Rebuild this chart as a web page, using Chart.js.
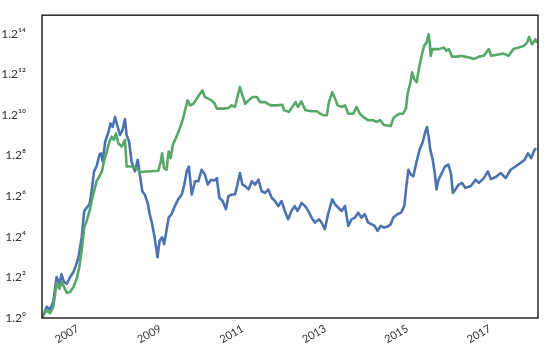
<!DOCTYPE html>
<html>
<head>
<meta charset="utf-8">
<script src="https://cdn.jsdelivr.net/npm/chart.js@4/dist/chart.umd.min.js"></script>
<style>
html,body{margin:0;padding:0;background:#fff;}
#wrap{width:559px;height:358px;}
</style>
</head>
<body>
<div id="wrap"><canvas id="c" width="559" height="358"></canvas></div>
<script>
// Tick labels
const yTickExponents = [0, 2, 4, 6, 8, 10, 12, 14];
const xTickYears = [2007, 2009, 2011, 2013, 2015, 2017];

// Blue series: dates (decimal years) and growth as exponent of 1.2
const blueYears = [2006.13,2006.24,2006.32,2006.40,2006.48,2006.55,2006.60,2006.66,2006.73,2006.81,2006.89,2006.95,2007.01,2007.09,2007.15,2007.21,2007.28,2007.33,2007.39,2007.45,2007.52,2007.56,2007.60,2007.66,2007.74,2007.79,2007.84,2007.90,2007.95,2008.02,2008.08,2008.14,
2008.18,2008.24,2008.30,2008.38,2008.45,2008.50,2008.56,2008.62,2008.69,2008.74,2008.80,2008.86,2008.93,2008.98,2009.04,2009.09,2009.14,2009.20,2009.27,2009.35,2009.43,2009.52,2009.58,2009.64,2009.69,2009.76,2009.84,2009.92,2010.00,2010.08,2010.15,2010.23,
2010.31,2010.37,2010.43,2010.51,2010.59,2010.65,2010.73,2010.81,2010.87,2010.93,2010.99,2011.06,2011.14,2011.22,2011.30,2011.38,2011.46,2011.54,2011.62,2011.70,2011.78,2011.86,2011.94,2012.02,2012.10,2012.18,2012.26,
2012.33,2012.43,2012.51,2012.59,2012.67,2012.75,2012.85,2012.91,2012.99,2013.07,2013.17,2013.24,2013.32,2013.40,2013.48,2013.56,2013.64,2013.72,2013.80,2013.88,2013.96,2014.04,2014.12,2014.20,2014.27,2014.35,2014.43,
2014.51,2014.59,2014.65,2014.75,2014.84,2014.92,2014.97,2015.02,2015.08,2015.14,2015.21,2015.29,2015.37,2015.43,2015.47,2015.51,2015.55,2015.61,2015.66,2015.70,2015.75,2015.83,2015.91,2015.99,2016.05,2016.10,2016.16,2016.24,2016.32,
2016.40,2016.53,2016.65,2016.73,2016.85,2016.95,2017.02,2017.14,2017.26,2017.38,2017.50,2017.62,2017.74,2017.84,2017.92,2018.00,2018.08,2018.12];
const blueExp = [0.00,0.55,0.42,0.80,2.02,1.69,2.15,1.77,1.69,2.02,2.26,2.59,2.99,3.97,5.27,5.43,5.59,6.24,7.22,7.46,8.03,8.11,7.71,8.68,9.17,9.58,9.41,9.90,9.50,9.01,9.25,9.80,
9.01,8.68,7.71,7.22,7.79,7.06,6.24,6.08,5.67,5.11,4.62,3.97,2.99,3.80,3.97,3.64,4.21,4.94,5.11,5.51,5.84,6.08,6.57,7.22,7.46,6.08,6.73,6.73,7.30,7.06,6.57,6.81,
6.77,6.89,5.92,5.76,5.35,6.00,6.08,6.08,6.57,7.14,6.57,6.49,6.33,6.73,6.57,6.81,6.24,6.16,6.33,5.92,5.76,5.51,5.76,5.27,4.86,5.27,5.51,
5.27,5.67,5.51,5.27,4.94,4.70,4.86,4.70,4.37,5.11,5.84,5.59,5.43,5.27,5.51,4.54,4.86,4.94,5.19,4.94,5.11,4.70,4.62,4.54,4.29,4.54,4.45,
4.50,4.62,4.94,5.11,5.19,5.51,6.49,7.30,7.06,6.98,7.63,8.28,8.68,9.17,9.41,8.93,8.28,7.79,7.14,6.33,6.81,7.14,7.46,7.55,7.14,6.16,6.33,6.57,6.65,
6.41,6.49,6.81,6.65,6.89,7.22,6.84,6.94,7.14,6.89,7.30,7.46,7.63,7.79,8.11,7.87,8.28,8.36];

// Green series
const greenYears = [2006.13,2006.16,2006.24,2006.32,2006.40,2006.48,2006.55,2006.60,2006.66,2006.73,2006.81,2006.89,2006.97,2007.03,2007.09,2007.15,2007.21,2007.28,2007.33,2007.39,2007.45,2007.52,2007.58,2007.63,2007.70,2007.76,2007.82,2007.87,2007.92,2007.98,2008.06,2008.14,
2008.18,2008.30,2008.42,2008.50,2008.95,2009.01,2009.04,2009.09,2009.15,2009.20,2009.25,2009.30,2009.39,2009.47,2009.55,2009.61,2009.66,2009.72,2009.80,2009.88,2009.96,2010.02,2010.08,2010.16,2010.24,2010.32,
2010.37,2010.53,2010.65,2010.73,2010.81,2010.87,2010.93,2010.99,2011.06,2011.14,2011.24,2011.34,2011.42,2011.54,2011.67,2011.83,2011.96,2012.00,2012.12,2012.20,2012.28,
2012.34,2012.42,2012.52,2012.68,2012.80,2012.88,2012.96,2013.04,2013.09,2013.17,2013.24,2013.30,2013.40,2013.48,2013.56,2013.68,2013.76,2013.84,2013.92,2014.04,2014.16,2014.24,2014.33,2014.43,
2014.59,2014.65,2014.73,2014.81,2014.89,2014.96,2015.00,2015.06,2015.11,2015.16,2015.22,2015.28,2015.35,2015.40,2015.46,2015.51,2015.54,2015.56,2015.60,2015.76,2015.88,2015.94,2016.00,2016.08,2016.21,2016.31,2016.39,
2016.49,2016.61,2016.73,2016.85,2016.97,2017.03,2017.17,2017.33,2017.45,2017.57,2017.70,2017.82,2017.90,2017.95,2018.02,2018.10,2018.14];
const greenExp = [0.00,0.15,0.39,0.23,0.55,1.69,1.45,1.77,1.53,1.24,1.28,1.53,1.94,2.50,3.32,4.45,4.78,5.27,5.76,6.24,6.73,6.98,7.22,7.71,8.20,8.68,8.93,8.77,9.09,8.60,8.44,8.77,
7.46,7.46,7.38,7.19,7.25,7.71,8.11,7.38,7.30,8.20,7.87,8.52,8.93,9.33,9.82,10.31,10.72,10.47,10.55,10.80,11.04,11.20,10.88,10.80,10.72,10.55,
10.31,10.31,10.34,10.47,10.39,10.88,11.37,10.96,10.55,10.72,10.88,10.88,10.63,10.63,10.47,10.47,10.50,10.23,10.15,10.39,10.63,
10.39,10.67,10.23,10.18,10.18,10.06,9.98,9.98,10.63,11.12,10.80,10.47,10.39,10.47,10.06,10.06,10.39,10.06,9.90,9.74,9.74,9.66,9.74,9.50,
9.45,9.82,9.98,10.06,10.06,10.31,11.04,11.53,12.10,11.77,11.61,12.34,12.99,13.40,13.56,13.97,13.48,12.91,13.24,13.24,13.32,13.16,13.24,12.87,12.87,12.91,12.87,
12.83,12.75,12.87,12.91,13.24,12.91,12.96,13.02,12.91,13.24,13.32,13.40,13.56,13.84,13.48,13.72,13.55];

const BASE = 1.2;
const toPoints = (xs, es) => xs.map((x, i) => ({x: x, y: Math.pow(BASE, es[i])}));
const SUP = {'0':'⁰','1':'¹','2':'²','3':'³','4':'⁴','5':'⁵','6':'⁶','7':'⁷','8':'⁸','9':'⁹'};

const framePlugin = {
  id: 'frame',
  afterDatasetsDraw(chart) {
    const a = chart.chartArea, ctx = chart.ctx;
    ctx.save();
    ctx.strokeStyle = '#262626';
    ctx.lineWidth = 1.5;
    ctx.strokeRect(a.left, a.top, a.right - a.left, a.bottom - a.top);
    ctx.restore();
  }
};

new Chart(document.getElementById('c'), {
  type: 'line',
  data: {
    datasets: [
      {label: 'green', data: toPoints(greenYears, greenExp), borderColor: '#55A868', borderWidth: 2.6, pointRadius: 0, tension: 0, order: 1, borderJoinStyle: 'round'},
      {label: 'blue', data: toPoints(blueYears, blueExp), borderColor: '#4C72B0', borderWidth: 2.6, pointRadius: 0, tension: 0, order: 2, borderJoinStyle: 'round'}
    ]
  },
  options: {
    responsive: false,
    devicePixelRatio: 1,
    animation: false,
    parsing: true,
    layout: {padding: {top: 12, right: 21, left: 0, bottom: 0}},
    plugins: {legend: {display: false}, tooltip: {enabled: false}},
    scales: {
      x: {
        type: 'linear',
        min: 2006.126,
        max: 2018.165,
        grid: {display: false},
        border: {display: false},
        afterBuildTicks(scale) { scale.ticks = xTickYears.map(v => ({value: v})); },
        afterFit(scale) { scale.height = 40; },
        ticks: {
          minRotation: 30, maxRotation: 30, padding: -4,
          color: '#333', font: {family: 'Lato', size: 11},
          callback: v => String(v)
        }
      },
      y: {
        type: 'logarithmic',
        min: 1,
        max: Math.pow(BASE, 14.91),
        grid: {display: false},
        border: {display: false},
        afterBuildTicks(scale) { scale.ticks = yTickExponents.map(e => ({value: Math.pow(BASE, e)})); },
        afterFit(scale) { scale.width = 42; },
        ticks: {
          padding: 8,
          color: '#333', font: {family: 'Lato', size: 12},
          callback: v => {
            const e = Math.round(Math.log(v) / Math.log(BASE));
            return '1.2' + String(e).split('').map(d => SUP[d]).join('');
          }
        }
      }
    }
  },
  plugins: [framePlugin]
});
</script>
</body>
</html>
